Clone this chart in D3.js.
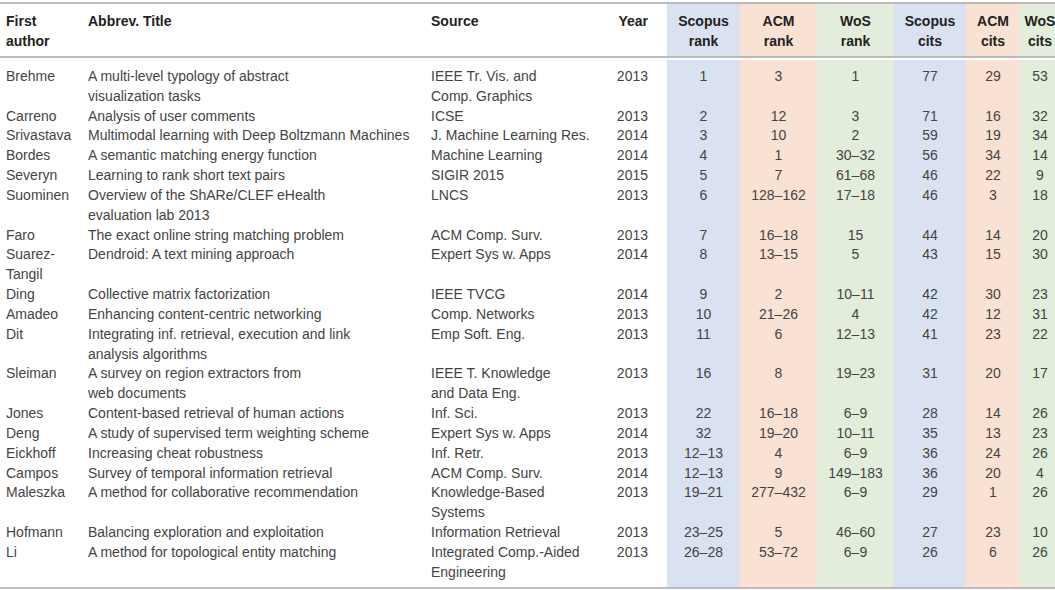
<!DOCTYPE html>
<html>
<head>
<meta charset="utf-8">
<script src="https://cdn.jsdelivr.net/npm/d3@7"></script>
<style>
  body { margin: 0; background: #fff; }
  svg text { font-family: "Liberation Sans", Arial, Helvetica, sans-serif; }
</style>
</head>
<body>
<div id="chart"></div>
<script>
// table contents, one array per column (multi-line cells are arrays of lines)
var authors = [['Brehme'], ['Carreno'], ['Srivastava'], ['Bordes'], ['Severyn'], ['Suominen'], ['Faro'],
  ['Suarez-', 'Tangil'], ['Ding'], ['Amadeo'], ['Dit'], ['Sleiman'], ['Jones'], ['Deng'], ['Eickhoff'],
  ['Campos'], ['Maleszka'], ['Hofmann'], ['Li']]

var titles = [['A multi-level typology of abstract', 'visualization tasks'],
  ['Analysis of user comments'],
  ['Multimodal learning with Deep Boltzmann Machines'],
  ['A semantic matching energy function'],
  ['Learning to rank short text pairs'],
  ['Overview of the ShARe/CLEF eHealth', 'evaluation lab 2013'],
  ['The exact online string matching problem'],
  ['Dendroid: A text mining approach'],
  ['Collective matrix factorization'],
  ['Enhancing content-centric networking'],
  ['Integrating inf. retrieval, execution and link', 'analysis algorithms'],
  ['A survey on region extractors from', 'web documents'],
  ['Content-based retrieval of human actions'],
  ['A study of supervised term weighting scheme'],
  ['Increasing cheat robustness'],
  ['Survey of temporal information retrieval'],
  ['A method for collaborative recommendation'],
  ['Balancing exploration and exploitation'],
  ['A method for topological entity matching']]

var sources = [['IEEE Tr. Vis. and', 'Comp. Graphics'], ['ICSE'], ['J. Machine Learning Res.'],
  ['Machine Learning'], ['SIGIR 2015'], ['LNCS'], ['ACM Comp. Surv.'], ['Expert Sys w. Apps'],
  ['IEEE TVCG'], ['Comp. Networks'], ['Emp Soft. Eng.'], ['IEEE T. Knowledge', 'and Data Eng.'],
  ['Inf. Sci.'], ['Expert Sys w. Apps'], ['Inf. Retr.'], ['ACM Comp. Surv.'],
  ['Knowledge-Based', 'Systems'], ['Information Retrieval'], ['Integrated Comp.-Aided', 'Engineering']]

var years = [2013, 2013, 2014, 2014, 2015, 2013, 2013, 2014, 2014, 2013, 2013, 2013, 2013, 2014, 2013, 2014, 2013, 2013, 2013]

var scopusRank = ['1', '2', '3', '4', '5', '6', '7', '8', '9', '10', '11', '16', '22', '32', '12–13', '12–13', '19–21', '23–25', '26–28']
var acmRank = ['3', '12', '10', '1', '7', '128–162', '16–18', '13–15', '2', '21–26', '6', '8', '16–18', '19–20', '4', '9', '277–432', '5', '53–72']
var wosRank = ['1', '3', '2', '30–32', '61–68', '17–18', '15', '5', '10–11', '4', '12–13', '19–23', '6–9', '10–11', '6–9', '149–183', '6–9', '46–60', '6–9']
var scopusCits = [77, 71, 59, 56, 46, 46, 44, 43, 42, 42, 41, 31, 28, 35, 36, 36, 29, 27, 26]
var acmCits = [29, 16, 19, 34, 22, 3, 14, 15, 30, 12, 23, 20, 14, 13, 24, 20, 1, 23, 6]
var wosCits = [53, 32, 34, 14, 9, 18, 20, 30, 23, 31, 22, 17, 26, 23, 26, 4, 26, 10, 26]

var headers = [['First', 'author'], ['Abbrev. Title'], ['Source'], ['Year'],
  ['Scopus', 'rank'], ['ACM', 'rank'], ['WoS', 'rank'], ['Scopus', 'cits'], ['ACM', 'cits'], ['WoS', 'cits']]

var width = 1055, height = 590
var blue = '#dae2f1', peach = '#f9e1d3', green = '#e2eedb'

// column layout: left edge, right edge, alignment, band colour
var cols = [
  { x0: 6, x1: 86, align: 'start', fill: null },
  { x0: 88, x1: 428, align: 'start', fill: null },
  { x0: 431, x1: 600, align: 'start', fill: null },
  { x0: 600, x1: 648, align: 'end', fill: null },
  { x0: 667, x1: 740, align: 'middle', fill: blue },
  { x0: 740, x1: 817, align: 'middle', fill: peach },
  { x0: 817, x1: 894, align: 'middle', fill: green },
  { x0: 894, x1: 966, align: 'middle', fill: blue },
  { x0: 966, x1: 1020, align: 'middle', fill: peach },
  { x0: 1020, x1: 1060, align: 'middle', fill: green }
]

var rows = authors.map((a, i) => [a, titles[i], sources[i], [String(years[i])],
  [scopusRank[i]], [acmRank[i]], [wosRank[i]], [String(scopusCits[i])], [String(acmCits[i])], [String(wosCits[i])]])

// each row starts on the line after the tallest cell of the previous one
var starts = []
var line = 0
rows.forEach(r => { starts.push(line); line += d3.max(r, c => c.length) })
var totalLines = line

var lineH = 19.83
var yBody = d3.scaleLinear().domain([0, totalLines]).range([76, 76 + totalLines * lineH])
var yHead = d3.scaleLinear().domain([0, 2]).range([21, 21 + 2 * 20])

var anchorX = c => c.align === 'start' ? c.x0 : c.align === 'end' ? c.x1 : (c.x0 + c.x1) / 2

var svg = d3.select('#chart').append('svg').attr('width', width).attr('height', height)

// coloured column bands
svg.append('g').selectAll('rect')
  .data(cols.filter(c => c.fill)).enter().append('rect')
  .attr('x', c => c.x0).attr('y', 3)
  .attr('width', c => c.x1 - c.x0).attr('height', 585)
  .attr('fill', c => c.fill)

// thin white gap under the header rule
svg.append('rect').attr('x', 0).attr('y', 57).attr('width', width).attr('height', 3).attr('fill', '#fff')

// rules
svg.append('g').selectAll('line')
  .data([3, 57, 588]).enter().append('line')
  .attr('x1', 0).attr('x2', width)
  .attr('y1', d => d).attr('y2', d => d)
  .attr('stroke', '#a8a8a8').attr('stroke-width', 1.5)

// header
var head = svg.append('g').attr('font-weight', 'bold').attr('font-size', 14).attr('fill', '#222')
headers.forEach((h, j) => {
  head.append('text')
    .attr('text-anchor', cols[j].align)
    .selectAll('tspan').data(h).enter().append('tspan')
    .attr('x', anchorX(cols[j]))
    .attr('y', (d, k) => yHead(k) + 5)
    .text(d => d)
})

// body
var body = svg.append('g').attr('font-size', 14).attr('fill', '#444')
rows.forEach((r, i) => {
  r.forEach((cell, j) => {
    body.append('text')
      .attr('text-anchor', cols[j].align)
      .selectAll('tspan').data(cell).enter().append('tspan')
      .attr('x', anchorX(cols[j]))
      .attr('y', (d, k) => yBody(starts[i] + k) + 5)
      .text(d => d)
  })
})
</script>
</body>
</html>
